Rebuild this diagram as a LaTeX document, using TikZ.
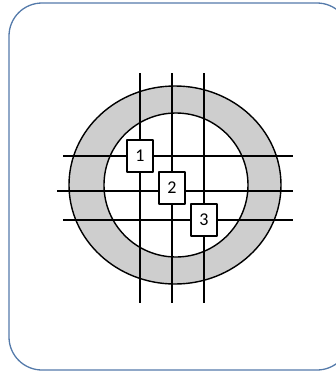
\documentclass[tikz,border=0pt]{standalone}
\usepackage{fontspec}
\setmainfont{Carlito}
\begin{document}
\begin{tikzpicture}[
  x=1pt,
  y=-1pt,
  line cap=butt,
  line join=round,
  frame box/.style={draw=frameblue, line width=1.3pt, rounded corners=33pt},
  ring line/.style={draw=black, line width=1.4pt},
  grid line/.style={draw=black, line width=1.5pt},
  well box/.style={draw=black, fill=white, line width=1.4pt,
    minimum width=26pt, minimum height=32pt, inner sep=0pt,
    font=\fontsize{18}{18}\selectfont}
]
  \definecolor{frameblue}{RGB}{84,122,170}
  \definecolor{ringgray}{RGB}{206,206,206}
  \useasboundingbox (0,0) rectangle (336,376);

  % Rounded outer frame, cut off at the right edge.
  \draw[frame box] (9,3) rectangle (350,370);

  % Grey ring between the two circles.
  \fill[ringgray, even odd rule]
    (175,185) ellipse [x radius=106, y radius=99]
    (176,185) ellipse [x radius=72, y radius=72];
  \draw[ring line] (175,185) ellipse [x radius=106, y radius=99];
  \draw[ring line] (176,185) ellipse [x radius=72, y radius=72];

  % Vertical and horizontal grid lines.
  \foreach \x in {140,172,204} {
    \draw[grid line] (\x,73) -- (\x,303);
  }
  \draw[grid line] (63,156) -- (293,156);
  \draw[grid line] (57,191) -- (293,191);
  \draw[grid line] (63,220) -- (293,220);

  % Numbered boxes on the diagonal.
  \node[well box] (box1) at (140,156) {1};
  \node[well box] (box2) at (172,188) {2};
  \node[well box] (box3) at (204,220) {3};
\end{tikzpicture}
\end{document}
